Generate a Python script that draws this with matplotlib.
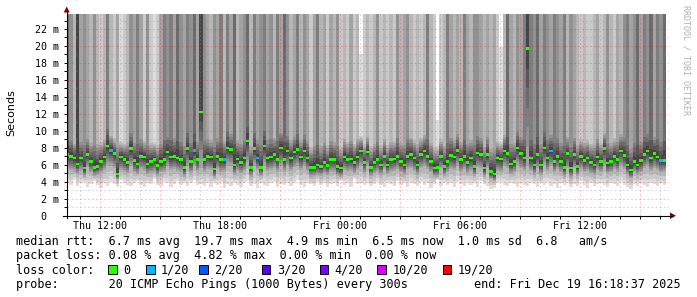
import numpy as np
import matplotlib
matplotlib.use("Agg")
import matplotlib.pyplot as plt
from matplotlib.patches import Rectangle, Polygon
from matplotlib.lines import Line2D

# one column every 10 minutes, hours counted from Thu 12:00
t_start = -1.7
t_step = 1 / 6

median = [
    7.2, 7.0, 6.8, 6.1, 6.8, 5.6, 7.2, 6.4, 5.7, 5.8,
    6.4, 6.9, 8.2, 7.7, 7.3, 4.9, 6.9, 6.6, 6.3, 7.9,
    6.5, 6.1, 7.0, 6.9, 6.1, 6.4, 6.6, 5.9, 6.4, 6.6,
    7.5, 6.9, 7.0, 6.8, 6.6, 5.7, 7.9, 6.4, 7.7, 6.6,
    12.2, 6.6, 7.0, 6.9, 5.5,
    7.0, 6.6, 6.6, 8.0, 7.8, 6.0, 6.7, 6.3, 6.8, 8.8,
    5.7, 7.9, 6.8, 5.7, 8.2, 6.8, 6.9, 7.2, 6.6, 8.0,
    6.6, 7.6, 6.8, 7.5, 7.8, 6.9, 7.6, 6.8, 5.7, 5.7,
    6.0, 5.8, 6.3, 5.9, 6.6, 6.6, 5.8, 5.6, 6.9, 6.6,
    6.7, 6.3, 6.9, 7.6, 6.3,
    7.5, 5.7, 6.3, 6.6, 6.0, 7.0, 6.0, 6.6, 6.7, 7.0,
    6.4, 6.0, 7.0, 7.2, 6.8, 6.0, 7.2, 7.6, 7.0, 6.4,
    5.6, 5.7, 7.0, 5.8, 6.4, 7.1, 6.9, 7.7, 6.6, 7.0,
    6.3, 6.8, 5.8, 7.4, 7.2, 5.6, 7.2, 5.2, 4.9, 6.8,
    6.7, 7.6, 7.3, 6.1, 6.4,
    8.0, 7.3, 6.8, 19.7, 6.8, 6.0, 7.2, 6.0, 8.0, 6.8,
    7.6, 6.4, 7.0, 6.4, 5.7, 7.3, 5.6, 7.2, 5.8, 7.0,
    6.5, 6.8, 6.3, 6.0, 6.9, 6.4, 7.9, 6.2, 6.4, 7.0,
    6.6, 7.6, 7.1, 6.0, 5.4, 6.4, 6.0, 6.5, 7.2, 7.6,
    6.8, 7.3, 6.9, 6.5, 6.5,
]

# lost pings out of 20 per column
loss = [0] * 180
for i in (13, 38, 47, 57, 145, 178):
    loss[i] = 1

# fastest ping
ping_min = [
    3.9, 3.6, 4.2, 3.5, 3.8, 4.0, 3.4, 3.7, 4.1, 3.6, 3.3, 3.8, 3.5, 4.0, 3.7, 3.4, 4.2, 3.9, 3.6, 3.5,
    3.8, 4.1, 3.6, 3.4, 3.9, 3.7, 4.3, 3.6, 3.5, 4.0, 3.8, 3.4, 3.7, 4.1, 3.6, 3.9, 3.5, 3.8, 4.2, 3.6,
    3.7, 3.5, 3.9, 3.4, 3.8, 3.6, 4.0, 3.3, 3.7, 3.5, 3.9, 3.6, 3.4, 3.8, 4.1, 3.5, 3.7, 3.3, 3.9, 3.6,
    3.5, 3.8, 4.0, 3.4, 3.7, 3.6, 3.9, 3.5, 3.8, 4.2, 3.6, 3.4, 3.9, 3.7, 3.5, 4.0, 3.6, 3.8, 3.4, 3.7,
    3.9, 3.5, 4.1, 3.6, 3.8, 3.4, 4.3, 3.7, 3.9, 3.6, 3.8, 3.5, 3.7, 4.0, 3.6, 3.4, 3.9, 3.7, 3.5, 4.1,
    3.6, 3.8, 3.4, 3.9, 3.7, 3.5, 4.0, 3.6, 3.8, 3.3, 3.7, 4.2, 3.5, 3.9, 3.6, 3.8, 3.4, 4.0, 3.7, 3.5,
    3.9, 3.6, 3.8, 3.4, 4.1, 3.7, 3.5, 3.2, 3.3, 3.8, 4.0, 3.6, 3.5, 3.9, 3.7, 3.4, 3.8, 3.6, 3.5, 3.9,
    3.7, 3.4, 3.8, 3.6, 4.0, 3.5, 3.7, 3.3, 3.9, 3.6, 3.8, 3.4, 3.7, 3.5, 4.1, 3.6, 3.3, 3.8, 3.5, 3.7,
    3.9, 3.6, 3.4, 3.8, 3.7, 3.5, 4.0, 3.6, 3.4, 3.2, 3.7, 3.5, 3.8, 3.6, 3.4, 3.9, 3.7, 3.5, 3.8, 3.6,
]

# 4th fastest ping
ping_low = [
    5.6, 5.4, 5.2, 4.9, 5.3, 4.6, 5.7, 5.1, 4.7, 4.8, 5.0, 5.4, 6.0, 5.9, 5.6, 4.3, 5.4, 5.2, 5.0, 5.8,
    5.1, 4.9, 5.5, 5.3, 4.9, 5.0, 5.2, 4.7, 5.1, 5.2, 5.8, 5.4, 5.5, 5.3, 5.1, 4.6, 5.9, 5.0, 5.8, 5.2,
    5.6, 5.2, 5.5, 5.4, 4.5,
    5.5, 5.2, 5.1, 6.0, 5.9, 4.8, 5.3, 5.0, 5.3, 6.2, 4.6, 5.9, 5.4, 4.7, 6.0, 5.3, 5.4, 5.6, 5.2, 5.9,
    5.2, 5.8, 5.3, 5.7, 5.9, 5.4, 5.8, 5.3, 4.6, 4.7, 4.8, 4.7, 5.0, 4.8, 5.2, 5.2, 4.7, 4.6, 5.4, 5.2,
    5.3, 5.0, 5.4, 5.8, 5.0,
    5.8, 4.7, 5.0, 5.2, 4.8, 5.5, 4.9, 5.2, 5.3, 5.5, 5.1, 4.8, 5.5, 5.6, 5.3, 4.8, 5.6, 5.8, 5.5, 5.1,
    4.6, 4.6, 5.5, 4.7, 5.1, 5.5, 5.4, 5.9, 5.2, 5.5, 5.0, 5.3, 4.7, 5.7, 5.6, 4.6, 5.6, 4.3, 4.1, 5.3,
    5.2, 5.8, 5.6, 4.9, 5.1,
    6.0, 5.6, 5.3, 5.8, 5.3, 4.8, 5.6, 4.8, 6.0, 5.3, 5.8, 5.1, 5.5, 5.1, 4.6, 5.6, 4.5, 5.6, 4.7, 5.5,
    5.1, 5.3, 5.0, 4.8, 5.4, 5.1, 5.9, 4.9, 5.1, 5.5, 5.2, 5.8, 5.5, 4.8, 4.4, 5.1, 4.8, 5.1, 5.6, 5.8,
    5.3, 5.6, 5.4, 5.1, 5.2,
]

# slowest ping that is not an outlier
ping_high = [
    9.2, 8.8, 8.5, 9.6, 8.7, 8.3, 9.0, 8.6, 8.2, 8.4, 8.7, 8.9, 10.2, 9.4, 9.1, 8.1, 8.8, 8.5, 8.6, 9.7,
    8.6, 8.4, 9.0, 8.8, 8.2, 8.6, 8.7, 8.3, 8.5, 8.9, 9.3, 8.9, 9.1, 8.8, 8.7, 8.2, 9.8, 8.6, 9.6, 8.7,
    14.0, 8.8, 9.0, 8.9, 8.1,
    9.1, 8.6, 8.8, 9.9, 9.6, 8.4, 8.9, 8.5, 8.8, 10.5, 8.2, 9.7, 8.9, 8.3, 10.0, 8.9, 9.0, 9.2, 8.8, 9.8,
    8.7, 9.4, 8.9, 9.3, 9.6, 8.9, 9.5, 8.8, 8.1, 8.2, 8.3, 8.2, 8.6, 8.3, 8.8, 8.7, 8.2, 8.1, 9.0, 8.7,
    8.8, 8.5, 9.0, 9.4, 8.4,
    9.3, 8.2, 8.5, 8.7, 8.3, 9.0, 8.3, 8.7, 8.8, 9.1, 8.6, 8.3, 9.0, 9.2, 8.9, 8.4, 9.2, 9.5, 9.0, 8.6,
    8.1, 8.2, 9.0, 8.2, 8.6, 9.2, 8.9, 9.6, 8.7, 9.0, 8.5, 8.9, 8.3, 9.4, 9.2, 8.1, 9.3, 7.9, 7.8, 8.8,
    8.7, 9.5, 9.3, 8.4, 8.6,
    9.9, 9.3, 8.9, 22.0, 8.9, 8.4, 9.3, 8.4, 9.9, 8.9, 9.5, 8.6, 9.1, 8.6, 8.2, 9.3, 8.1, 9.2, 8.3, 9.0,
    8.6, 8.9, 8.5, 8.3, 9.0, 8.6, 9.8, 8.4, 8.6, 9.1, 8.7, 9.6, 9.2, 8.3, 7.9, 8.6, 8.3, 8.7, 9.3, 9.6,
    8.9, 9.3, 9.0, 8.7, 8.8,
]

# how many of the 20 pings are outliers, and their value (30 = off the chart)
n_outliers = [
    7, 5, 3, 9, 4, 5, 4, 3, 5, 3, 2, 3, 6, 3, 2, 4, 1, 2, 3, 5,
    4, 6, 4, 2, 5, 2, 1, 2, 4, 6, 5, 6, 4, 7, 5, 4, 6, 5, 7, 4,
    9, 5, 4, 3, 5, 4, 6, 3, 6, 4, 7, 3, 4, 5, 7, 3, 6, 4, 5, 6,
    4, 5, 3, 6, 4, 7, 5, 3, 4, 6, 3, 5, 4, 2, 4, 6, 3, 4, 2, 4,
    3, 5, 2, 3, 2, 4, 2, 3, 1, 2, 3, 2, 3, 5, 2, 3, 2, 3, 2, 5,
    3, 4, 5, 3, 2, 3, 2, 3, 6, 3, 2, 1, 2, 3, 6, 4, 3, 4, 3, 6,
    4, 3, 5, 5, 4, 3, 4, 3, 4, 2, 1, 3, 7, 4, 3, 5, 4, 6, 9, 6,
    5, 7, 4, 6, 5, 4, 6, 5, 4, 6, 3, 5, 4, 3, 2, 3, 2, 2, 3, 4,
    2, 3, 5, 3, 2, 4, 3, 5, 6, 4, 5, 7, 4, 6, 5, 7, 4, 6, 5, 7,
]
outlier_val = [
    30, 30, 30, 30, 30, 30, 30, 30, 30, 30, 30, 30, 30, 30, 30, 30, 30, 30, 30, 30,
    30, 30, 30, 30, 30, 30, 30, 30, 30, 30, 30, 30, 30, 30, 30, 30, 30, 30, 30, 30,
    30, 30, 30, 30, 30, 30, 30, 30, 30, 30, 30, 30, 30, 30, 30, 30, 30, 30, 30, 30,
    30, 30, 30, 30, 30, 30, 30, 30, 30, 30, 30, 30, 30, 30, 30, 30, 30, 30, 30, 30,
    30, 30, 30, 30, 30, 30, 30, 30, 19, 30, 30, 30, 30, 30, 30, 30, 30, 30, 30, 30,
    30, 30, 30, 30, 30, 30, 30, 30, 30, 30, 30, 11.3, 30, 30, 30, 30, 30, 30, 30, 30,
    30, 30, 30, 30, 30, 30, 30, 30, 30, 30, 19.9, 30, 30, 30, 30, 30, 30, 30, 30, 30,
    30, 30, 30, 30, 30, 30, 30, 30, 30, 30, 30, 30, 30, 30, 30, 30, 30, 30, 30, 30,
    30, 30, 30, 30, 30, 30, 30, 30, 30, 30, 30, 30, 30, 30, 30, 30, 30, 30, 30, 30,
]

loss_labels = ["0", "1/20", "2/20", "3/20", "4/20", "10/20", "19/20"]
loss_steps = [0, 1, 2, 3, 4, 10, 19]
loss_colors = ["#26ff00", "#00b8ff", "#0059ff", "#5e00ff", "#7e00ff", "#dd00ff", "#ff0000"]

x_tick_hours = [0, 6, 12, 18, 24]
x_tick_labels = ["Thu 12:00", "Thu 18:00", "Fri 00:00", "Fri 06:00", "Fri 12:00"]
y_ticks = [0, 2, 4, 6, 8, 10, 12, 14, 16, 18, 20, 22]
y_tick_labels = ["0  "] + ["%d m" % v for v in y_ticks[1:]]

W, H = 697, 297
MONO = "DejaVu Sans Mono"


def fx(px):
    return px / W


def fy(py):
    return 1 - py / H


fig = plt.figure(figsize=(W / 100, H / 100), dpi=100, facecolor="white")
ax = fig.add_axes([fx(66.7), fy(215.7), (669 - 66.7) / W, (215.7 - 14) / H])
ax.set_xlim((66.7 - 100) / 20, (669 - 100) / 20)
ax.set_ylim(0, 22 / (215.7 - 29) * (215.7 - 14))

# smoke: pair up the sorted pings from the outside in
n = len(median)
pings = np.zeros((20, n))
for i in range(n):
    lower = np.interp(np.arange(1, 11), [1, 4, 10], [ping_min[i], ping_low[i], median[i] - 0.1])
    m = 20 - n_outliers[i]
    top = max(ping_high[i], median[i] + 0.1)
    if m > 11:
        core = np.interp(np.arange(11, m + 1), [11, m], [median[i] + 0.1, top])
    else:
        m = 11
        core = np.array([median[i] + 0.1])
    upper = np.concatenate([core, np.full(20 - m, outlier_val[i])])
    pings[:, i] = np.concatenate([lower, upper])

edges = t_start + t_step * np.arange(n + 1)
for k in range(10):
    g = int(190 / 10 * (10 - (k + 1))) + 50
    lo = np.append(pings[k], pings[k][-1])
    hi = np.append(pings[19 - k], pings[19 - k][-1])
    ax.fill_between(edges, lo, hi, step="post", color="#%02x%02x%02x" % (g, g, g),
                    linewidth=0, antialiased=False, zorder=1)

# grid
dots = (0, (2, 2.2))
for h in range(-1, 29):
    if h % 3 == 0:
        ax.axvline(h, color="#ff0000", alpha=0.25, lw=0.7, ls=dots, zorder=3)
    else:
        ax.axvline(h, color="#909090", alpha=0.35, lw=0.7, ls=dots, zorder=3)
for v in range(1, 24):
    if v % 2 == 0:
        ax.axhline(v, color="#ff0000", alpha=0.25, lw=0.7, ls=dots, zorder=3)
    else:
        ax.axhline(v, color="#909090", alpha=0.35, lw=0.7, ls=dots, zorder=3)

# median, coloured by loss
med_colors = []
for l in loss:
    idx = max(j for j, s in enumerate(loss_steps) if l >= s)
    med_colors.append(loss_colors[idx])
ax.bar(edges[:-1], 0.3, bottom=np.array(median) - 0.15, width=t_step, align="edge",
       color=med_colors, linewidth=0, zorder=5)

for s in ax.spines.values():
    s.set_visible(False)
ax.set_xticks(x_tick_hours)
ax.set_xticklabels(x_tick_labels, family=MONO, fontsize=7.2)
ax.set_xticks(range(-1, 29), minor=True)
ax.set_yticks(y_ticks)
ax.set_yticklabels(y_tick_labels, family=MONO, fontsize=7.2)
ax.set_yticks(range(1, 24, 2), minor=True)
ax.tick_params(axis="x", which="both", length=2, width=0.7, pad=1.5)
ax.tick_params(axis="y", which="both", length=2, width=0.7, pad=3.4)
ax.set_facecolor("white")

# axes with arrow heads
fig.add_artist(Line2D([fx(63), fx(672)], [fy(215.7), fy(215.7)], color="black", lw=0.8))
fig.add_artist(Line2D([fx(66.7), fx(66.7)], [fy(218), fy(10)], color="black", lw=0.8))
fig.add_artist(Polygon([(fx(670), fy(212.5)), (fx(676), fy(215.7)), (fx(670), fy(219))],
                       closed=True, color="#8b0000", lw=0))
fig.add_artist(Polygon([(fx(63.7), fy(12.5)), (fx(66.7), fy(6.5)), (fx(69.7), fy(12.5))],
                       closed=True, color="#8b0000", lw=0))

fig.text(fx(11), fy(113), "Seconds", rotation=90, ha="center", va="center",
         family="DejaVu Sans", fontsize=8)
fig.text(fx(686), fy(5), "RRDTOOL / TOBI OETIKER", rotation=270, ha="center", va="top",
         family=MONO, fontsize=6, color="#b0b0b0")

# legend below the graph
fs = 8.5
fig.text(fx(16), fy(245), "median rtt:  6.7 ms avg  19.7 ms max  4.9 ms min  6.5 ms now  1.0 ms sd  6.8   am/s",
         family=MONO, fontsize=fs, va="baseline")
fig.text(fx(16), fy(259.5), "packet loss: 0.08 % avg  4.82 % max  0.00 % min  0.00 % now",
         family=MONO, fontsize=fs, va="baseline")
fig.text(fx(16), fy(273.5), "loss color:", family=MONO, fontsize=fs, va="baseline")
box_x = [108, 146, 199.4, 261.7, 319.5, 377.4, 442.8]
for bx, lab, c in zip(box_x, loss_labels, loss_colors):
    fig.add_artist(Rectangle((fx(bx), fy(273.5)), 8.5 / W, 9 / H, facecolor=c,
                             edgecolor="black", lw=0.7))
    fig.text(fx(bx + 15), fy(273.5), lab, family=MONO, fontsize=fs, va="baseline")
fig.text(fx(16), fy(288), "probe:       20 ICMP Echo Pings (1000 Bytes) every 300s",
         family=MONO, fontsize=fs, va="baseline")
fig.text(fx(681), fy(288), "end: Fri Dec 19 16:18:37 2025", family=MONO, fontsize=fs,
         va="baseline", ha="right")

fig.savefig("out.png", dpi=100, facecolor="white")
